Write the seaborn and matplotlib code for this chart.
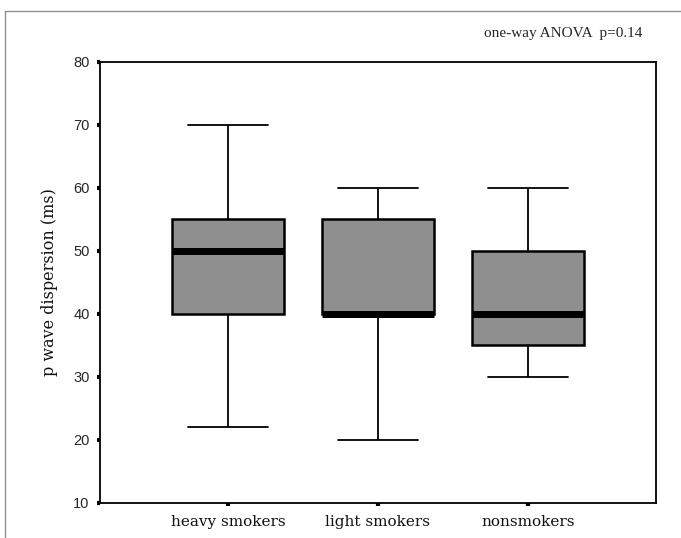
import matplotlib
matplotlib.use("Agg")

import matplotlib.pyplot as plt
import numpy as np
import pandas as pd
import seaborn as sns
from matplotlib.lines import Line2D

# ── data: five-number summary per group (min, q1, median, q3, max) ─────────
groups = ["heavy smokers", "light smokers", "nonsmokers"]
heavy = [22, 40, 50, 55, 70]
light = [20, 40, 40, 55, 60]
non = [30, 35, 40, 50, 60]
y_ticks = [10, 20, 30, 40, 50, 60, 70, 80]

df = pd.DataFrame({
    "group": np.repeat(groups, 5),
    "value": heavy + light + non,
})

sns.set_style("white")

fig = plt.figure(figsize=(6.81, 5.38), dpi=100)
ax = fig.add_axes([0.1468, 0.0651, 0.8165, 0.8197])

sns.boxplot(
    data=df, x="group", y="value", order=groups, ax=ax,
    color="#8f8f8f", saturation=1, width=0.75, whis=(0, 100),
    linecolor="black", linewidth=1.3, capwidths=0.53,
    boxprops=dict(linewidth=1.8),
    medianprops=dict(linewidth=5, color="black"),
)

ax.set_xlim(-0.853, 2.853)
ax.set_ylim(10, 80)
ax.set_yticks(y_ticks)
ax.set_xlabel("")
ax.set_ylabel("p wave dispersion (ms)", family="DejaVu Serif",
              fontsize=11.5, labelpad=11, color="#111111")

for sp in ax.spines.values():
    sp.set_visible(True)
    sp.set_color("black")
    sp.set_linewidth(1.3)

ax.tick_params(axis="both", direction="out", length=2.5, width=3,
               color="black", bottom=True, left=True)
ax.tick_params(axis="y", labelsize=10.5, pad=5)
ax.tick_params(axis="x", pad=6)
for lab in ax.get_xticklabels():
    lab.set_family("DejaVu Serif")
    lab.set_fontsize(11)
    lab.set_color("#111111")
for lab in ax.get_yticklabels():
    lab.set_family("Liberation Sans")

fig.text(0.943, 0.938, "one-way ANOVA  p=0.14", ha="right", va="center",
         family="Liberation Serif", fontsize=11)

# thin grey frame on the top and left of the picture
fig.add_artist(Line2D([0.0073, 1.0], [0.9795, 0.9795], color="#909090",
                      linewidth=1.0, transform=fig.transFigure))
fig.add_artist(Line2D([0.0073, 0.0073], [0.0, 0.9795], color="#909090",
                      linewidth=1.0, transform=fig.transFigure))

fig.savefig("out.png", dpi=100)
plt.close(fig)
